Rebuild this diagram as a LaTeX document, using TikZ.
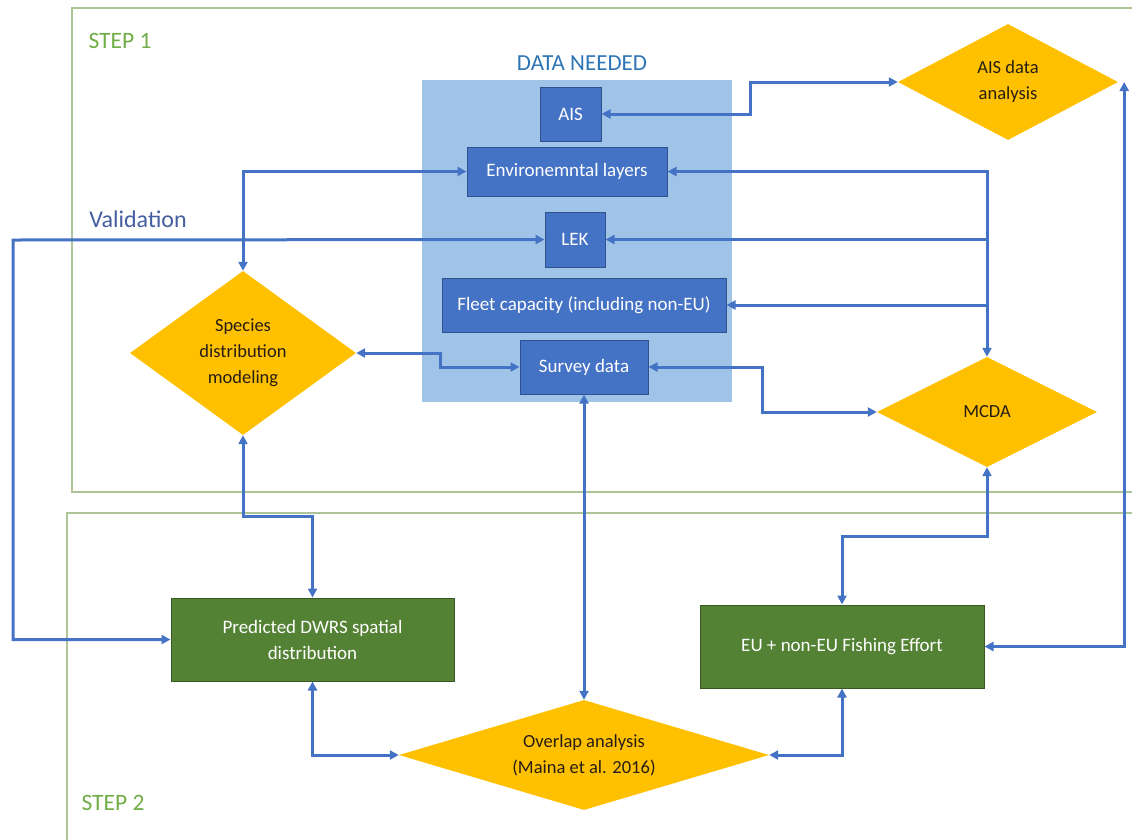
\documentclass[tikz,border=0pt]{standalone}
\usepackage{fontspec}
\setmainfont{Carlito}
\usetikzlibrary{arrows.meta}
\usetikzlibrary{positioning}
\usetikzlibrary{shapes.geometric}

\definecolor{linkblue}{RGB}{68,114,196}
\definecolor{boxblue}{RGB}{68,114,196}
\definecolor{boxedge}{RGB}{47,82,143}
\definecolor{databg}{RGB}{160,196,232}
\definecolor{gold}{RGB}{255,192,0}
\definecolor{resultgreen}{RGB}{84,130,53}
\definecolor{resultedge}{RGB}{56,87,35}
\definecolor{framegreen}{RGB}{172,196,150}
\definecolor{steptext}{RGB}{112,173,71}
\definecolor{titleblue}{RGB}{46,117,182}
\definecolor{validblue}{RGB}{68,94,160}
\definecolor{textdark}{RGB}{38,30,20}

\begin{document}
\begin{tikzpicture}[
    x=1pt, y=-1pt,
    >={Triangle[length=9pt,width=9pt]},
    every node/.style={font=\fontsize{19}{26}\selectfont, inner sep=0pt},
    datafield/.style={rectangle, draw=boxedge, line width=1pt, fill=boxblue, text=white, align=center},
    result/.style={rectangle, draw=resultedge, line width=1pt, fill=resultgreen, text=white, align=center},
    decision/.style={diamond, fill=gold, text=textdark, align=center, font=\fontsize{18.5}{26}\selectfont},
    link/.style={draw=linkblue, line width=3pt},
    frame/.style={draw=framegreen, line width=1.2pt},
    steplabel/.style={text=steptext, font=\fontsize{23.5}{26}\selectfont}
]
\useasboundingbox (0,0) rectangle (1132,839);

% Frames
\draw[frame] (72,8) rectangle (1140,492);
\draw[frame] (67,513) rectangle (1140,850);
\node[steplabel] (step1) at (120,41) {STEP 1};
\node[steplabel] (step2) at (113,803) {STEP 2};

% Nodes
\node[rectangle, fill=databg, minimum width=310pt, minimum height=322pt] (data) at (577,241) {};
\node[text=titleblue, font=\fontsize{23}{26}\selectfont] (title) at (582,63) {DATA NEEDED};
\node[datafield, minimum width=61pt, minimum height=54pt] (ais) at (570.5,114) {AIS};
\node[datafield, minimum width=200pt, minimum height=49pt] (env) at (567,171.5) {Environemntal layers};
\node[datafield, minimum width=60pt, minimum height=55pt] (lek) at (575,239.5) {LEK};
\node[datafield, minimum width=284pt, minimum height=54pt] (fleet) at (584,305) {Fleet capacity (including non-EU)};
\node[datafield, minimum width=128pt, minimum height=54pt] (survey) at (584,367) {Survey data};

\node[decision, aspect=1.9, minimum width=220pt, minimum height=116pt] (aisan) at (1008,82) {AIS data\\analysis};
\node[decision, aspect=2, minimum width=220pt, minimum height=110pt] (mcda) at (987,412) {MCDA};
\node[decision, aspect=1.38, minimum width=226pt, minimum height=164pt] (sdm) at (243,353) {Species\\distribution\\modeling};
\node[decision, aspect=3.36, minimum width=370pt, minimum height=110pt] (overlap) at (584,755) {Overlap analysis\\(Maina et al. 2016)};

\node[result, minimum width=283pt, minimum height=83pt] (pred) at (312.5,639.5) {Predicted DWRS spatial\\distribution};
\node[result, minimum width=284pt, minimum height=83pt] (effort) at (842,646.5) {EU + non-EU Fishing Effort};

\node[text=validblue, font=\fontsize{24}{26}\selectfont] (valid) at (138,219) {Validation};
\coordinate (vturn) at (13,240);

% Edges
\draw[link, <->] (ais.east) -- ++(149,0) |- (aisan.west);
\draw[link, <->] (sdm.north) |- (env.west);
\draw[link, <->] (env.east) -| (mcda.north);
\draw[link, ->] (mcda.north |- lek.east) -- (lek.east);
\draw[link, ->] (mcda.north |- fleet.east) -- (fleet.east);
\draw[link, <->] (lek.west) -- (vturn) |- (pred.west);
\draw[link, <->] (sdm.east) -- ++(84,0) |- (survey.west);
\draw[link, <->] (survey.east) -- ++(114,0) |- (mcda.west);
\draw[link, <->] (survey.south) -- (overlap.north);
\draw[link, <->] (sdm.south) -- ++(0,81) -| (pred.north);
\draw[link, <->] (mcda.south) -- ++(0,69) -| (effort.north);
\draw[link, <->] (effort.east) -| ([xshift=6pt]aisan.east);
\draw[link, <->] (pred.south) |- (overlap.west);
\draw[link, <->] (effort.south) |- (overlap.east);

\end{tikzpicture}
\end{document}
